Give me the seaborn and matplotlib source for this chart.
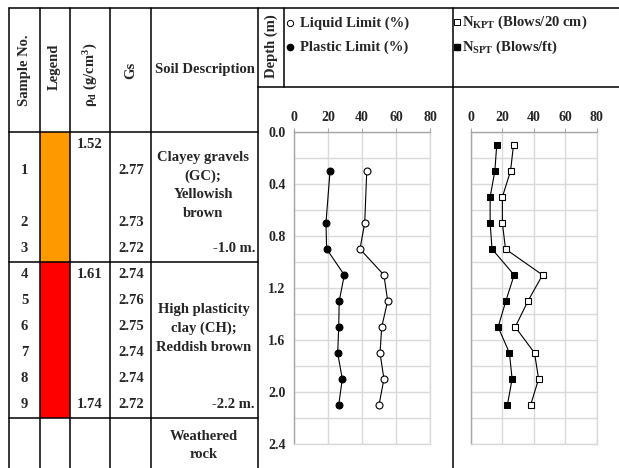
import matplotlib
matplotlib.use('Agg')
import matplotlib.pyplot as plt
import seaborn as sns
import pandas as pd
from matplotlib.patches import Rectangle
from matplotlib.transforms import blended_transform_factory
from matplotlib.ticker import MultipleLocator, FormatStrFormatter

# lab samples
sample_no = ['1', '2', '3', '4', '5', '6', '7', '8', '9']
sample_depth = [0.3, 0.7, 0.9, 1.1, 1.3, 1.5, 1.7, 1.9, 2.1]
gs = ['2.77', '2.73', '2.72', '2.74', '2.76', '2.75', '2.74', '2.74', '2.72']
liquid_limit = [42.8, 41.6, 38.8, 52.9, 55.1, 51.6, 50.6, 52.9, 50.0]
plastic_limit = [21.2, 18.8, 19.2, 29.6, 26.6, 26.3, 25.7, 28.4, 26.3]

# dry density
density = ['1.52', '1.61', '1.74']
density_depth = [0.1, 1.1, 2.1]

# penetration tests
n_depth = [0.1, 0.3, 0.5, 0.7, 0.9, 1.1, 1.3, 1.5, 1.7, 1.9, 2.1]
n_kpt = [27.1, 25.2, 20.0, 20.0, 22.0, 45.6, 36.3, 28.2, 40.5, 43.1, 38.0]
n_spt = [16.4, 15.2, 12.2, 12.2, 13.4, 27.5, 22.2, 17.3, 24.5, 26.2, 23.2]

# soil layers
layer_top = [0.0, 1.0]
layer_bottom = [1.0, 2.2]
layer_color = ['#FF9900', '#FF0000']

df_lab = pd.DataFrame({'depth': sample_depth, 'LL': liquid_limit, 'PL': plastic_limit})
df_n = pd.DataFrame({'depth': n_depth, 'KPT': n_kpt, 'SPT': n_spt})

sns.set_style('white')
plt.rcParams['font.family'] = ['Liberation Serif', 'DejaVu Serif']
plt.rcParams['font.weight'] = 'bold'
plt.rcParams['mathtext.fontset'] = 'custom'
plt.rcParams['mathtext.rm'] = 'Liberation Serif:bold'
plt.rcParams['mathtext.it'] = 'Liberation Serif:bold'
plt.rcParams['mathtext.bf'] = 'Liberation Serif:bold'

W, H = 619, 468
fig = plt.figure(figsize=(W / 100, H / 100), dpi=100)
ax_bg = fig.add_axes([0, 0, 1, 1])
ax_bg.set_xlim(0, W)
ax_bg.set_ylim(H, 0)
ax_bg.axis('off')


def px_axes(x0, y0, x1, y1):
    return fig.add_axes([x0 / W, 1 - y1 / H, (x1 - x0) / W, (y1 - y0) / H])


ax_ll = px_axes(294, 132, 430, 444)
ax_n = px_axes(471, 132, 596.5, 444)

grid_c = '#D9D9D9'
for ax in (ax_ll, ax_n):
    ax.patch.set_visible(False)
    ax.set_xlim(0, 80)
    ax.set_ylim(2.4, 0)
    ax.xaxis.set_major_locator(MultipleLocator(20))
    ax.yaxis.set_major_locator(MultipleLocator(0.4))
    ax.yaxis.set_minor_locator(MultipleLocator(0.2))
    ax.grid(True, which='both', color=grid_c, lw=1.0)
    ax.xaxis.tick_top()
    ax.tick_params(axis='x', which='major', direction='out', length=3, width=0.8,
                   color='#A6A6A6', labelsize=10, pad=3)
    for s in ax.spines.values():
        s.set_color(grid_c)
        s.set_linewidth(1.0)
    ax.spines['left'].set_color('#A6A6A6')
    ax.spines['top'].set_color('#A6A6A6')
    ax.set_axisbelow(True)

ax_ll.yaxis.set_major_formatter(FormatStrFormatter('%.1f'))
ax_ll.tick_params(axis='y', which='major', direction='out', length=3, width=0.8,
                  color='#A6A6A6', labelsize=10, pad=3)
ax_ll.tick_params(axis='y', which='minor', length=0)
ax_n.tick_params(axis='y', which='both', length=0, labelleft=False)

line_kw = dict(color='black', lw=0.8, sort=False, estimator=None, orient='y')
sns.lineplot(data=df_lab, x='PL', y='depth', ax=ax_ll, marker='o', markersize=5,
             markerfacecolor='black', markeredgecolor='black', **line_kw)
sns.lineplot(data=df_lab, x='LL', y='depth', ax=ax_ll, marker='o', markersize=5,
             markerfacecolor='white', markeredgecolor='black', markeredgewidth=0.8, **line_kw)
sns.lineplot(data=df_n, x='SPT', y='depth', ax=ax_n, marker='s', markersize=5,
             markerfacecolor='black', markeredgecolor='black', **line_kw)
sns.lineplot(data=df_n, x='KPT', y='depth', ax=ax_n, marker='s', markersize=5,
             markerfacecolor='white', markeredgecolor='black', markeredgewidth=0.8, **line_kw)
for ax in (ax_ll, ax_n):
    ax.set_xlabel('')
    ax.set_ylabel('')

# table: x in pixels, y in depth
depth_tr = blended_transform_factory(ax_bg.transData, ax_ll.transData)
lw = 1.1
for t, b, c in zip(layer_top, layer_bottom, layer_color):
    ax_bg.add_patch(Rectangle((40, t), 30, b - t, transform=depth_tr,
                              facecolor=c, edgecolor='none', zorder=1))

ax_bg.plot([9, W], [8, 8], color='black', lw=lw, zorder=3)
for x in (9, 40, 70, 110, 151, 258, 453):
    ax_bg.plot([x, x], [8, H], color='black', lw=lw, zorder=3)
ax_bg.plot([284, 284], [8, 87], color='black', lw=lw, zorder=3)
ax_bg.plot([258, W], [87, 87], color='black', lw=lw, zorder=3)
for d in [0.0] + layer_bottom:
    ax_bg.plot([9, 258], [d, d], color='black', lw=lw, transform=depth_tr, zorder=3)

fs = 10.5
# headers
ax_bg.text(24.5, 70, 'Sample No.', rotation=90, ha='center', va='center', fontsize=fs)
ax_bg.text(54.5, 67, 'Legend', rotation=90, ha='center', va='center', fontsize=fs)
ax_bg.text(90.5, 75, r'ρ$_{\mathrm{d}}$ (g/cm$^{\mathrm{3}}$)', rotation=90,
           ha='center', va='center', fontsize=fs)
ax_bg.text(130.5, 70, 'Gs', rotation=90, ha='center', va='center', fontsize=fs)
ax_bg.text(204.5, 70, 'Soil Description', ha='center', va='center', fontsize=fs)
ax_bg.text(271, 46, 'Depth (m)', rotation=90, ha='center', va='center', fontsize=fs)

# header legends
ax_bg.plot([290], [23], marker='o', ms=4.5, mfc='white', mec='black', mew=0.7, ls='none')
ax_bg.plot([290], [47], marker='o', ms=4.5, mfc='black', mec='black', ls='none')
ax_bg.text(300, 23, 'Liquid Limit (%)', ha='left', va='center', fontsize=fs)
ax_bg.text(300, 47, 'Plastic Limit (%)', ha='left', va='center', fontsize=fs)
ax_bg.plot([457], [22], marker='s', ms=4.5, mfc='white', mec='black', mew=0.7, ls='none')
ax_bg.plot([457], [47], marker='s', ms=4.5, mfc='black', mec='black', ls='none')
ax_bg.text(462, 22, r'N$_{\mathrm{KPT}}$ (Blows/20 cm)', ha='left', va='center', fontsize=fs)
ax_bg.text(462, 47, r'N$_{\mathrm{SPT}}$ (Blows/ft)', ha='left', va='center', fontsize=fs)

# table values
for n, g, d in zip(sample_no, gs, sample_depth):
    ax_bg.text(24.5, d, n, ha='center', va='center', fontsize=fs, transform=depth_tr)
    ax_bg.text(131, d, g, ha='center', va='center', fontsize=fs, transform=depth_tr)
for r, d in zip(density, density_depth):
    ax_bg.text(90, d, r, ha='center', va='center', fontsize=fs, transform=depth_tr)

ax_bg.text(203, 0.41, 'Clayey gravels\n(GC);\nYellowish\nbrown', ha='center', va='center',
           fontsize=fs, linespacing=1.55, transform=depth_tr)
ax_bg.text(255, 0.9, '-1.0 m.', ha='right', va='center', fontsize=fs, transform=depth_tr)
ax_bg.text(204, 1.51, 'High plasticity\nclay (CH);\nReddish brown', ha='center', va='center',
           fontsize=fs, linespacing=1.55, transform=depth_tr)
ax_bg.text(255, 2.1, '-2.2 m.', ha='right', va='center', fontsize=fs, transform=depth_tr)
ax_bg.text(204, 2.41, 'Weathered\nrock', ha='center', va='center',
           fontsize=fs, linespacing=1.55, transform=depth_tr)

fig.savefig('out.png', dpi=100)
